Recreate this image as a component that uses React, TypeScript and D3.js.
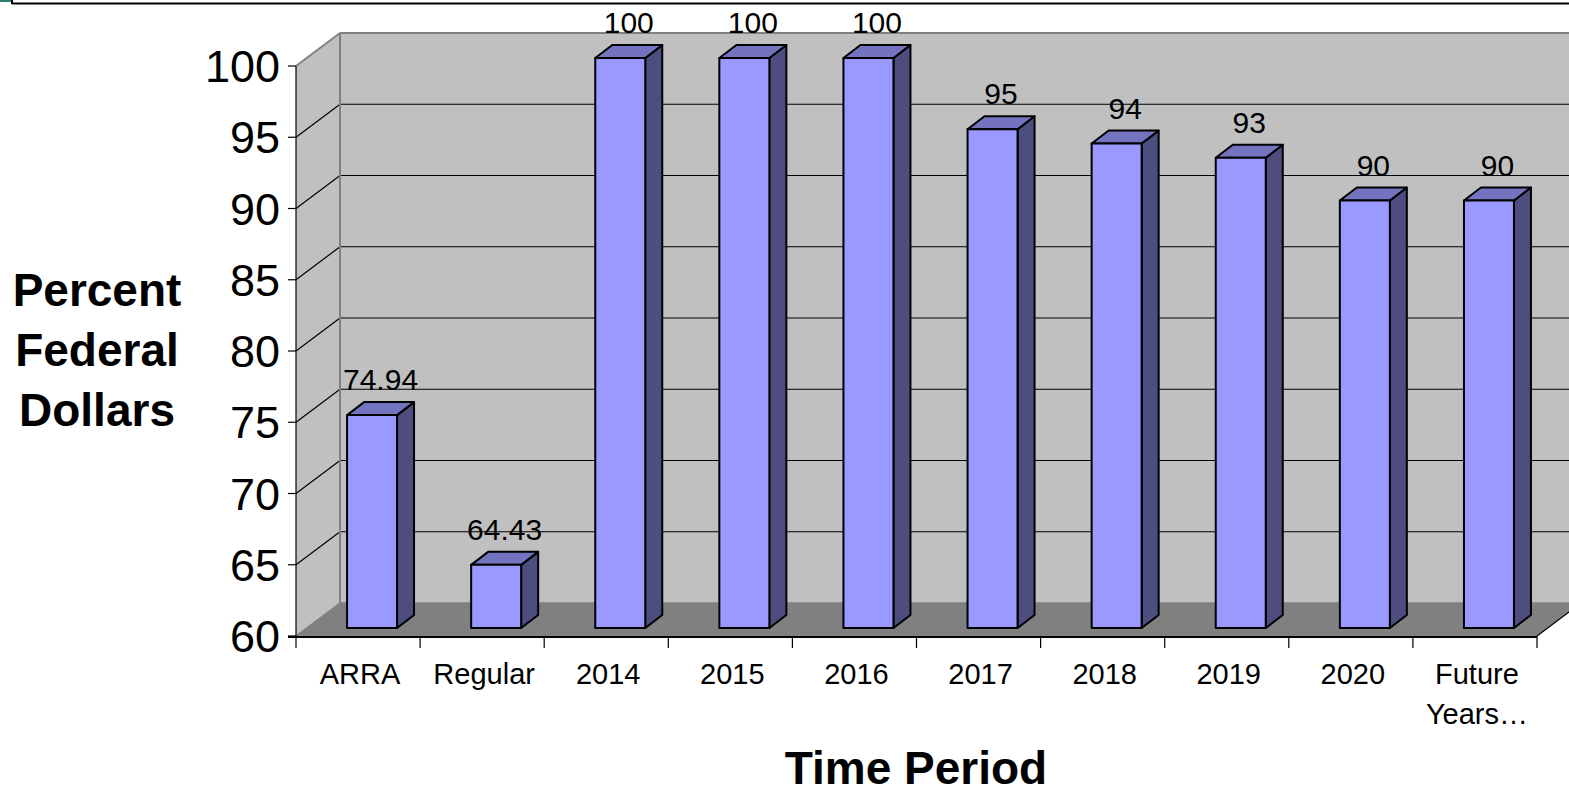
import * as d3 from 'd3';

const categories = ['ARRA', 'Regular', '2014', '2015', '2016', '2017', '2018', '2019', '2020', 'Future Years…'];
const percentFederal = [74.94, 64.43, 100, 100, 100, 95, 94, 93, 90, 90];
const valueLabels = ['74.94', '64.43', '100', '100', '100', '95', '94', '93', '90', '90'];
const yTicks = [60, 65, 70, 75, 80, 85, 90, 95, 100];

const W = 1569;
const H = 794;
const FONT = '"Liberation Sans", Arial, sans-serif';

// 3d offsets
const wallDx = 44;
const wallDy = -33;
const barShiftX = 14;
const barShiftY = -8;
const barW = 50;
const barDx = 17;
const barDy = -13;

const App = () => {
  const x = d3.scaleBand<string>().domain(categories).range([296, 1537]).padding(0);
  const y = d3.scaleLinear().domain([60, 100]).range([636, 66]);
  const x0 = 296;
  const x1 = 1537;
  const y0 = y(60);
  const yTop = y(100);

  return (
    <div style={{ position: 'fixed', left: 0, top: 0, width: W, height: H, background: '#fff' }}>
      <svg width={W} height={H} style={{ display: 'block', fontFamily: FONT }}>
        {/* frame */}
        <rect x={0} y={0} width={11} height={2} fill="#2f7f73" />
        <line x1={12} y1={0} x2={12} y2={4} stroke="#000" strokeWidth={2} />
        <line x1={12} y1={3.5} x2={W} y2={3.5} stroke="#000" strokeWidth={2} />

        {/* back wall */}
        <rect x={x0 + wallDx} y={yTop + wallDy} width={W} height={y0 - yTop} fill="#c0c0c0" />
        {/* left side wall */}
        <polygon
          points={`${x0},${y0} ${x0},${yTop} ${x0 + wallDx},${yTop + wallDy} ${x0 + wallDx},${y0 + wallDy}`}
          fill="#c0c0c0"
        />
        {/* floor */}
        <polygon
          points={`${x0},${y0} ${x0 + wallDx},${y0 + wallDy} ${W + 60},${y0 + wallDy} ${x1 + wallDx},${y0 + wallDy} ${x1},${y0}`}
          fill="#808080"
        />
        <rect x={x0 + wallDx} y={y0 + wallDy} width={W} height={-wallDy} fill="#808080" />
        <polygon points={`${x1},${y0} ${x1 + wallDx},${y0 + wallDy} ${W + 10},${y0 + wallDy} ${W + 10},${y0 + 10}`} fill="#fff" />

        {/* gridlines */}
        {yTicks.filter(t => t > 60 && t < 100).map(t => (
          <g key={t}>
            <line x1={x0} y1={y(t)} x2={x0 + wallDx} y2={y(t) + wallDy} stroke="#000" strokeWidth={1.2} />
            <line x1={x0 + wallDx} y1={y(t) + wallDy} x2={W} y2={y(t) + wallDy} stroke="#000" strokeWidth={1.2} />
          </g>
        ))}
        {/* wall edges */}
        <line x1={x0} y1={yTop} x2={x0 + wallDx} y2={yTop + wallDy} stroke="#808080" strokeWidth={2} />
        <line x1={x0 + wallDx} y1={yTop + wallDy} x2={W} y2={yTop + wallDy} stroke="#808080" strokeWidth={2} />
        <line x1={x0 + wallDx} y1={yTop + wallDy} x2={x0 + wallDx} y2={y0 + wallDy} stroke="#808080" strokeWidth={2} />
        <line x1={x0} y1={y0} x2={x0 + wallDx} y2={y0 + wallDy} stroke="#808080" strokeWidth={1.5} />
        <line x1={x0 + wallDx} y1={y0 + wallDy} x2={W} y2={y0 + wallDy} stroke="#808080" strokeWidth={1.5} />
        <line x1={x1} y1={y0} x2={x1 + wallDx} y2={y0 + wallDy} stroke="#000" strokeWidth={1.2} />

        {/* axes */}
        <line x1={x0} y1={yTop} x2={x0} y2={y0} stroke="#000" strokeWidth={1.2} />
        <line x1={x0 - 8} y1={y0 + 1} x2={x1} y2={y0 + 1} stroke="#000" strokeWidth={2} />
        {yTicks.map(t => (
          <g key={t}>
            <line x1={x0 - 8} y1={y(t)} x2={x0} y2={y(t)} stroke="#000" strokeWidth={1.2} />
            <text x={x0 - 16} y={y(t) + 16} textAnchor="end" fontSize={45} fill="#000">{t}</text>
          </g>
        ))}
        {[...categories.map(c => x(c) as number), x1].map((bx, i) => (
          <line key={i} x1={bx} y1={y0} x2={bx} y2={y0 + 12} stroke="#000" strokeWidth={1.2} />
        ))}

        {/* bars */}
        {categories.map((c, i) => {
          const cx = (x(c) as number) + x.bandwidth() / 2 + barShiftX;
          const left = cx - barW / 2;
          const right = cx + barW / 2;
          const bottom = y0 + barShiftY;
          const top = y(percentFederal[i]) + barShiftY;
          return (
            <g key={c} stroke="#000" strokeWidth={2} strokeLinejoin="round">
              <polygon
                points={`${right},${bottom} ${right},${top} ${right + barDx},${top + barDy} ${right + barDx},${bottom + barDy}`}
                fill="#4d4d80"
              />
              <polygon
                points={`${left},${top} ${left + barDx},${top + barDy} ${right + barDx},${top + barDy} ${right},${top}`}
                fill="#7373bf"
              />
              <rect x={left} y={top} width={barW} height={bottom - top} fill="#9999ff" />
              <text
                x={cx + barDx / 2}
                y={top + barDy - 12}
                textAnchor="middle"
                fontSize={30}
                stroke="none"
                fill="#000"
              >
                {valueLabels[i]}
              </text>
            </g>
          );
        })}

        {/* category labels */}
        {categories.map(c => {
          const cx = (x(c) as number) + x.bandwidth() / 2;
          const parts = c === 'Future Years…' ? ['Future', 'Years…'] : [c];
          return (
            <text key={c} x={cx + 2} y={684} textAnchor="middle" fontSize={29} fill="#000">
              {parts.map((p, k) => (
                <tspan key={k} x={cx + 2} dy={k === 0 ? 0 : 40}>{p}</tspan>
              ))}
            </text>
          );
        })}

        {/* titles */}
        <text x={97} y={306} textAnchor="middle" fontSize={46} fontWeight="bold" fill="#000">
          <tspan x={97} dy={0}>Percent</tspan>
          <tspan x={97} dy={60}>Federal</tspan>
          <tspan x={97} dy={60}>Dollars</tspan>
        </text>
        <text x={916} y={784} textAnchor="middle" fontSize={46} fontWeight="bold" fill="#000">Time Period</text>
      </svg>
    </div>
  );
};

export default App;
